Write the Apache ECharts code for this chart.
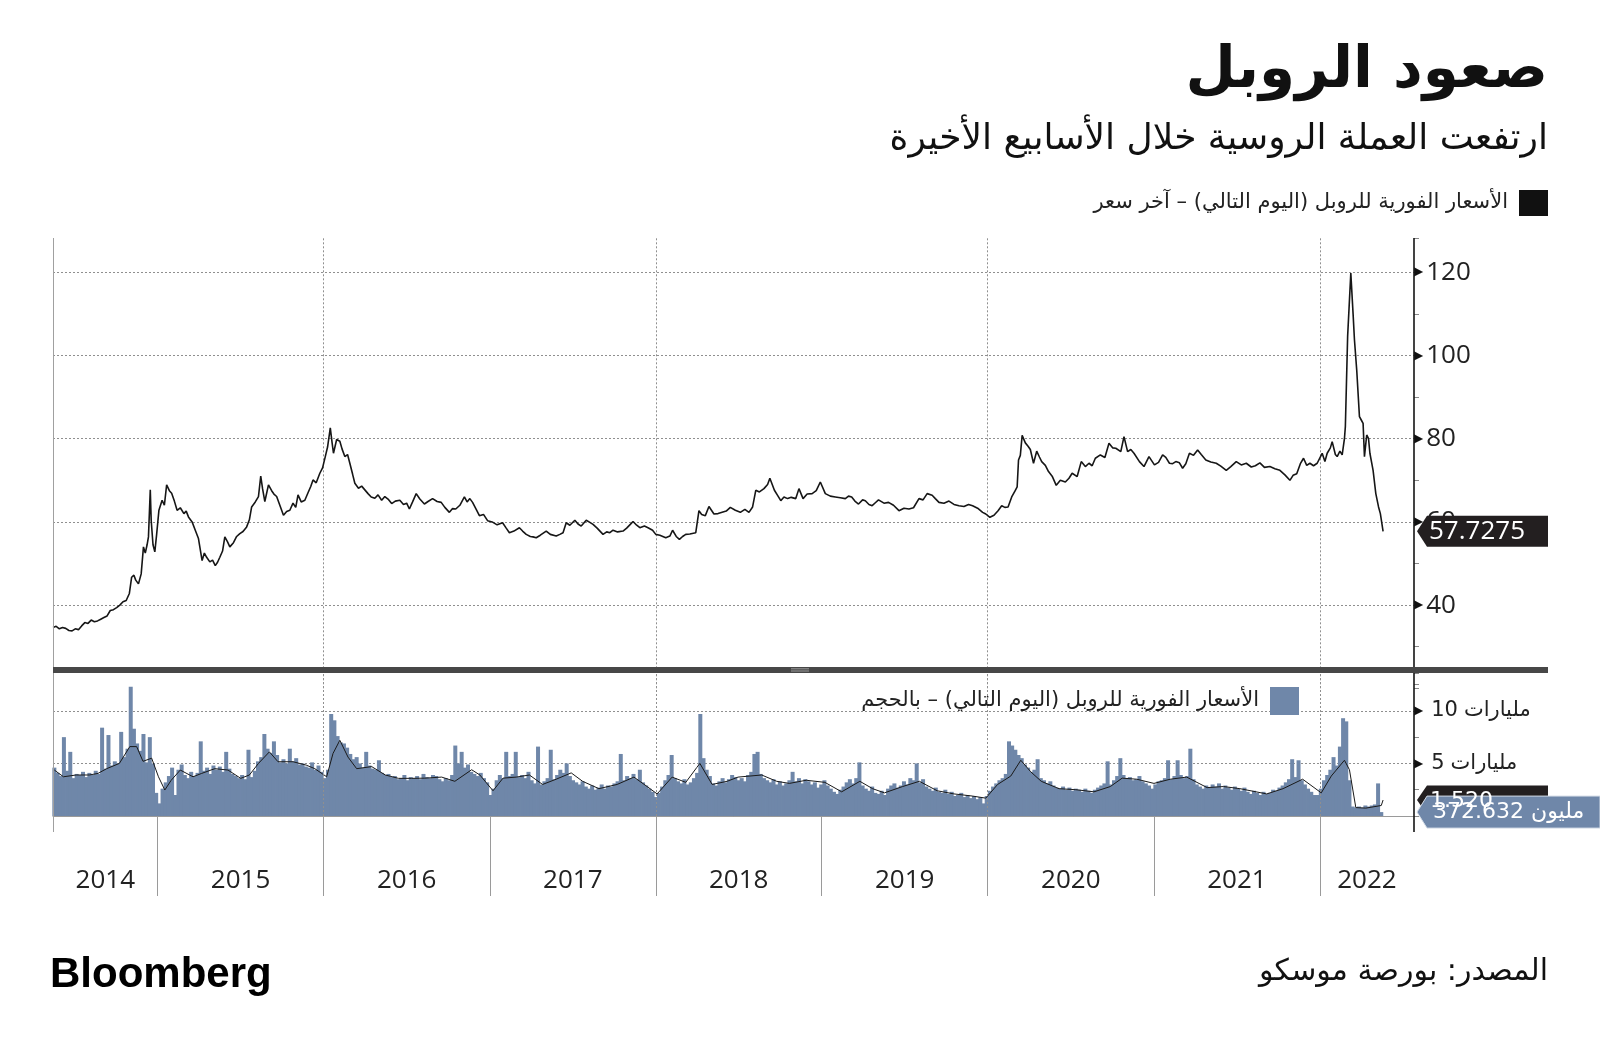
<!DOCTYPE html>
<html><head><meta charset="utf-8">
<script src="https://cdn.jsdelivr.net/npm/echarts@6/dist/echarts.min.js"></script>
<style>html,body{margin:0;padding:0;background:#fff}#c{width:1600px;height:1053px}</style>
</head><body><div id="c"></div>
<script>
// ---------- DATA ----------
const priceName = 'الأسعار الفورية للروبل (اليوم التالي) – آخر سعر';
const volName = 'الأسعار الفورية للروبل (اليوم التالي) – بالحجم';
const maName = 'المتوسط المتحرك للحجم';

const priceData = [
['2014-05-16',34.6],['2014-05-23',34.9],['2014-05-30',34.3],['2014-06-06',34.6],['2014-06-13',34.4],['2014-06-20',33.9],['2014-06-27',33.8],['2014-07-04',34.3],['2014-07-11',34.1],['2014-07-18',35.0],['2014-07-25',35.8],['2014-08-01',35.6],['2014-08-08',36.4],['2014-08-15',36.0],['2014-08-22',36.2],['2014-08-29',36.6],['2014-09-05',37.0],['2014-09-12',37.4],['2014-09-19',38.7],['2014-09-26',38.9],['2014-10-03',39.4],['2014-10-10',40.0],['2014-10-17',40.8],['2014-10-24',41.1],['2014-10-31',42.8],['2014-11-05',46.7],['2014-11-10',47.2],['2014-11-14',46.0],['2014-11-20',45.1],['2014-11-26',47.5],['2014-12-01',54.0],['2014-12-05',52.5],['2014-12-09',54.5],['2014-12-12',56.4],['2014-12-16',67.7],['2014-12-18',60.4],['2014-12-22',54.5],['2014-12-26',52.8],['2014-12-30',57.0],
['2015-01-04',62.8],['2015-01-11',65.2],['2015-01-16',64.0],['2015-01-21',68.9],['2015-01-27',67.5],['2015-02-01',66.9],['2015-02-07',65.0],['2015-02-13',62.8],['2015-02-20',63.4],['2015-02-28',62.0],['2015-03-05',62.6],['2015-03-10',61.2],['2015-03-18',60.0],['2015-03-25',58.0],['2015-04-01',56.0],['2015-04-09',50.7],['2015-04-14',52.5],['2015-04-19',51.5],['2015-04-26',50.4],['2015-05-02',50.8],['2015-05-08',49.5],['2015-05-13',50.3],['2015-05-18',51.5],['2015-05-24',53.0],['2015-05-29',56.4],['2015-06-04',55.2],['2015-06-09',54.0],['2015-06-17',55.0],['2015-06-24',56.5],['2015-07-01',57.2],['2015-07-08',57.7],['2015-07-16',58.8],['2015-07-22',60.5],['2015-07-27',63.6],['2015-08-04',64.8],['2015-08-11',66.1],['2015-08-16',71.0],['2015-08-20',68.0],['2015-08-25',64.9],['2015-09-02',68.9],['2015-09-09',67.5],['2015-09-14',66.7],['2015-09-20',66.1],['2015-09-27',64.0],['2015-10-05',61.6],['2015-10-12',62.5],['2015-10-19',62.8],['2015-10-26',64.5],['2015-11-01',63.5],['2015-11-06',66.5],['2015-11-13',64.8],['2015-11-21',65.2],['2015-11-28',67.0],['2015-12-04',68.5],['2015-12-09',70.1],['2015-12-16',69.4],['2015-12-24',71.7],['2015-12-30',73.0],
['2016-01-05',75.7],['2016-01-10',78.0],['2016-01-16',82.6],['2016-01-20',79.0],['2016-01-23',76.5],['2016-01-30',79.8],['2016-02-06',79.4],['2016-02-11',77.5],['2016-02-17',75.7],['2016-02-23',76.2],['2016-02-28',74.1],['2016-03-05',71.5],['2016-03-10',69.3],['2016-03-18',68.1],['2016-03-25',68.6],['2016-04-01',67.7],['2016-04-08',66.8],['2016-04-15',66.0],['2016-04-23',65.7],['2016-04-30',66.5],['2016-05-08',65.2],['2016-05-15',66.1],['2016-05-22',65.5],['2016-05-30',64.4],['2016-06-07',65.0],['2016-06-17',65.2],['2016-06-25',64.2],['2016-07-02',64.5],['2016-07-08',63.1],['2016-07-15',64.8],['2016-07-23',66.8],['2016-07-31',65.5],['2016-08-10',64.3],['2016-08-18',64.9],['2016-08-28',65.6],['2016-09-07',64.9],['2016-09-16',64.7],['2016-09-24',63.5],['2016-10-04',62.3],['2016-10-11',63.2],['2016-10-18',63.1],['2016-10-27',64.0],['2016-11-06',66.0],['2016-11-12',64.8],['2016-11-18',65.6],['2016-11-24',64.7],['2016-12-02',63.0],['2016-12-09',61.5],['2016-12-18',61.8],['2016-12-27',60.3],
['2017-01-06',60.0],['2017-01-17',59.3],['2017-01-29',59.8],['2017-02-06',58.5],['2017-02-13',57.4],['2017-02-23',57.8],['2017-03-07',58.6],['2017-03-14',57.8],['2017-03-22',57.0],['2017-03-31',56.5],['2017-04-06',56.4],['2017-04-13',56.2],['2017-04-22',56.8],['2017-05-05',57.8],['2017-05-14',57.0],['2017-05-27',56.6],['2017-06-04',57.0],['2017-06-11',57.4],['2017-06-18',59.8],['2017-06-26',59.2],['2017-07-07',60.4],['2017-07-14',59.5],['2017-07-21',59.0],['2017-08-01',60.4],['2017-08-09',59.9],['2017-08-16',59.4],['2017-08-25',58.5],['2017-09-07',57.0],['2017-09-15',57.6],['2017-09-22',57.4],['2017-09-29',58.0],['2017-10-09',57.6],['2017-10-21',57.8],['2017-10-29',58.5],['2017-11-06',59.4],['2017-11-12',60.1],['2017-11-20',59.2],['2017-11-27',58.6],['2017-12-07',59.0],['2017-12-15',58.6],['2017-12-25',58.0],
['2018-01-01',57.0],['2018-01-10',56.8],['2018-01-23',56.2],['2018-02-01',56.6],['2018-02-07',58.0],['2018-02-15',56.5],['2018-02-22',55.8],['2018-03-01',56.5],['2018-03-08',57.0],['2018-03-17',57.1],['2018-03-30',57.4],['2018-04-06',62.7],['2018-04-12',61.8],['2018-04-20',61.5],['2018-04-28',63.7],['2018-05-09',61.9],['2018-05-18',62.0],['2018-05-27',62.3],['2018-06-05',62.6],['2018-06-14',63.5],['2018-06-25',62.8],['2018-07-06',62.3],['2018-07-16',63.0],['2018-07-25',62.3],['2018-08-02',63.6],['2018-08-09',67.6],['2018-08-17',67.2],['2018-08-27',68.0],['2018-09-04',69.0],['2018-09-09',70.5],['2018-09-19',67.6],['2018-09-27',66.2],['2018-10-03',65.1],['2018-10-10',66.0],['2018-10-18',65.6],['2018-10-26',65.9],['2018-11-05',65.6],['2018-11-12',68.0],['2018-11-21',65.6],['2018-11-30',66.7],['2018-12-11',66.8],['2018-12-20',67.5],['2018-12-29',69.6],
['2019-01-09',66.8],['2019-01-20',66.2],['2019-01-31',66.0],['2019-02-11',65.8],['2019-02-22',65.6],['2019-03-01',66.2],['2019-03-08',66.0],['2019-03-15',65.0],['2019-03-23',64.3],['2019-04-01',65.3],['2019-04-07',65.1],['2019-04-15',64.2],['2019-04-22',63.9],['2019-04-29',64.6],['2019-05-06',65.3],['2019-05-18',64.5],['2019-05-28',64.7],['2019-06-08',64.0],['2019-06-20',62.7],['2019-07-01',63.3],['2019-07-12',63.1],['2019-07-22',63.4],['2019-08-03',65.6],['2019-08-12',65.3],['2019-08-21',66.8],['2019-09-01',66.4],['2019-09-08',65.6],['2019-09-16',64.7],['2019-09-27',64.5],['2019-10-08',65.0],['2019-10-19',64.2],['2019-10-30',63.9],['2019-11-10',63.7],['2019-11-20',64.2],['2019-11-29',63.9],['2019-12-10',63.3],['2019-12-21',62.3],['2019-12-28',61.9],
['2020-01-06',61.1],['2020-01-15',61.6],['2020-01-24',62.7],['2020-02-01',63.9],['2020-02-08',63.5],['2020-02-15',63.6],['2020-02-23',66.0],['2020-03-02',67.6],['2020-03-06',68.4],['2020-03-09',74.9],['2020-03-13',76.0],['2020-03-17',80.8],['2020-03-24',79.0],['2020-03-30',78.2],['2020-04-04',77.4],['2020-04-11',74.1],['2020-04-18',77.0],['2020-04-24',75.6],['2020-04-29',74.5],['2020-05-07',73.6],['2020-05-14',72.1],['2020-05-22',71.0],['2020-05-31',68.8],['2020-06-09',70.0],['2020-06-20',69.6],['2020-06-28',70.5],['2020-07-05',71.7],['2020-07-16',70.9],['2020-07-25',74.5],['2020-08-03',73.3],['2020-08-11',74.1],['2020-08-18',73.5],['2020-08-25',75.3],['2020-09-05',76.1],['2020-09-15',75.5],['2020-09-24',78.9],['2020-10-02',77.8],['2020-10-09',77.7],['2020-10-20',76.9],['2020-10-27',80.5],['2020-11-04',76.9],['2020-11-11',77.4],['2020-11-18',76.5],['2020-11-30',74.5],['2020-12-10',73.3],['2020-12-21',75.7],
['2021-01-02',73.7],['2021-01-11',74.3],['2021-01-20',76.1],['2021-01-27',75.5],['2021-02-04',74.1],['2021-02-11',74.0],['2021-02-18',74.5],['2021-02-26',74.2],['2021-03-05',72.9],['2021-03-12',74.0],['2021-03-20',76.5],['2021-03-29',76.0],['2021-04-07',77.3],['2021-04-15',76.2],['2021-04-25',74.9],['2021-05-06',74.4],['2021-05-18',74.1],['2021-05-28',73.4],['2021-06-09',72.4],['2021-06-19',73.3],['2021-07-01',74.5],['2021-07-12',73.7],['2021-07-23',74.1],['2021-08-03',73.2],['2021-08-12',73.5],['2021-08-22',74.2],['2021-09-01',73.1],['2021-09-13',73.3],['2021-09-24',72.8],['2021-10-05',72.4],['2021-10-16',71.3],['2021-10-27',70.0],['2021-11-03',71.2],['2021-11-11',71.6],['2021-11-19',74.0],['2021-11-26',75.3],['2021-12-03',73.6],['2021-12-10',74.1],['2021-12-18',73.5],['2021-12-26',74.1],
['2022-01-06',76.5],['2022-01-12',74.5],['2022-01-17',76.5],['2022-01-24',77.8],['2022-01-28',79.3],['2022-02-04',76.2],['2022-02-08',75.7],['2022-02-14',77.0],['2022-02-19',76.1],['2022-02-24',80.0],['2022-02-26',82.9],['2022-03-03',104.6],['2022-03-10',119.8],['2022-03-15',110.0],['2022-03-18',103.8],['2022-03-23',96.5],['2022-03-29',85.3],['2022-04-02',84.5],['2022-04-06',83.7],['2022-04-09',75.7],['2022-04-14',80.9],['2022-04-18',80.0],['2022-04-21',76.5],['2022-04-28',72.4],['2022-05-04',66.8],['2022-05-10',63.6],['2022-05-14',62.0],['2022-05-20',57.7275]
];

// weekly volume (billions), each array starts on the Monday listed in volStarts
const volStarts = ['2014-05-19','2015-01-05','2016-01-04','2017-01-02','2018-01-01','2018-12-31','2019-12-30','2020-12-28','2021-12-27'];
const vol2014 = [4.6,4.1,3.8,7.5,4.3,6.1,3.6,4.0,3.9,4.2,3.7,4.1,3.9,4.3,4.0,8.4,4.5,7.7,4.8,5.2,5.0,8.0,5.6,6.4,12.3,8.3,6.9,6.2,7.8,5.1,7.5,5.0,2.2];
const vol2015 = [1.2,2.6,3.2,3.8,4.6,2.0,4.4,4.9,3.9,3.6,4.2,3.8,4.1,7.1,4.3,4.6,4.0,4.8,4.4,4.7,4.2,6.1,4.5,4.0,3.8,3.6,3.9,3.5,6.3,3.7,4.3,5.2,5.6,7.8,6.4,6.0,7.1,5.8,5.1,5.4,5.0,6.4,5.2,5.5,4.9,5.0,4.7,4.6,5.1,4.4,4.8,4.2];
const vol2016 = [3.6,4.4,9.7,9.1,7.6,7.0,6.9,6.5,5.9,5.4,5.6,5.0,4.6,6.1,4.8,4.5,4.4,5.3,4.1,3.9,4.0,3.7,3.8,3.5,3.6,3.9,3.4,3.7,3.6,3.8,3.5,4.0,3.7,3.6,3.9,3.8,3.5,3.3,3.6,3.4,3.9,6.7,5.0,6.1,4.6,4.9,4.2,4.0,3.8,4.1,3.6,3.2];
const vol2017 = [2.0,2.6,3.4,3.9,3.6,6.1,3.8,4.0,6.1,3.7,3.9,3.6,4.2,3.4,3.1,6.6,3.0,3.3,3.6,6.3,3.5,3.9,4.4,4.1,5.0,3.8,3.4,3.2,3.0,3.3,2.8,2.6,2.9,2.5,2.7,3.0,2.6,2.9,2.8,3.1,3.3,5.9,3.4,3.8,3.6,4.0,3.5,4.4,3.2,2.9,2.6,2.3];
const vol2018 = [1.8,2.2,2.8,3.4,3.9,5.8,3.6,3.3,3.1,3.5,3.0,3.2,3.6,4.1,9.7,5.5,4.4,3.8,3.1,2.9,3.3,3.6,3.2,3.5,3.9,3.7,3.4,3.6,3.3,3.9,4.2,5.9,6.1,4.0,3.6,3.4,3.2,3.5,3.0,3.3,2.9,3.1,3.4,4.2,3.3,3.6,3.1,3.5,3.3,3.0,3.2,2.7];
const vol2019 = [3.0,3.4,2.9,2.6,2.3,2.1,2.5,2.8,3.2,3.5,3.1,3.6,5.1,2.9,2.6,2.4,2.8,2.2,2.1,2.4,2.0,2.6,2.9,3.1,2.7,2.9,3.3,3.0,3.6,3.4,5.0,3.2,3.5,2.8,2.6,2.4,2.7,2.3,2.2,2.5,2.1,2.3,1.9,2.0,2.2,1.8,2.0,1.7,1.9,1.6,1.8,1.2];
const vol2020 = [1.9,2.4,2.8,3.1,3.4,3.6,4.0,7.1,6.7,6.3,5.8,5.5,4.9,4.6,4.2,4.4,5.4,3.6,3.4,3.1,3.3,2.9,2.7,2.6,2.8,2.5,2.7,2.4,2.6,2.5,2.3,2.6,2.4,2.2,2.5,2.7,2.9,3.1,5.2,3.0,3.4,3.8,5.5,3.9,3.6,3.7,3.4,3.5,3.8,3.3,3.1,2.9];
const vol2021 = [2.6,3.0,3.3,3.4,3.6,5.3,3.5,3.8,5.3,3.9,3.6,3.8,6.4,3.5,3.0,2.8,2.6,2.9,2.7,3.0,2.8,3.1,2.6,2.9,2.7,2.5,2.8,2.6,2.4,2.7,2.3,2.1,2.4,2.2,2.0,2.3,2.1,2.2,2.5,2.4,2.7,2.9,3.2,3.5,5.4,3.7,5.3,3.4,3.0,2.6,2.3,2.0];
const vol2022 = [2.0,2.6,3.4,3.9,4.4,5.6,4.8,6.6,9.3,9.0,3.4,0.9,0.8,0.9,0.8,1.0,0.9,1.0,1.1,3.1,0.372632];
const volYears = [vol2014,vol2015,vol2016,vol2017,vol2018,vol2019,vol2020,vol2021,vol2022];

// moving average of volume (billions)
const maData = [
['2014-05-19',4.37],['2014-06-08',3.73],['2014-07-06',3.9],['2014-08-04',3.9],['2014-08-23',4.05],['2014-09-11',4.5],['2014-10-09',5.0],['2014-11-01',6.6],['2014-11-16',6.6],['2014-11-30',5.2],['2014-12-19',5.5],
['2015-01-03',3.73],['2015-01-17',2.47],['2015-01-31',3.4],['2015-02-20',4.37],['2015-03-20',3.73],['2015-04-08',4.05],['2015-05-07',4.5],['2015-06-05',4.37],['2015-07-03',3.58],['2015-07-22',3.9],['2015-08-11',5.0],['2015-09-04',6.1],['2015-09-23',5.16],['2015-10-26',5.16],['2015-11-24',4.84],['2015-12-13',4.5],
['2016-01-08',3.73],['2016-01-22',5.95],['2016-02-06',7.2],['2016-02-24',5.6],['2016-03-14',4.5],['2016-04-16',4.7],['2016-05-16',3.9],['2016-06-14',3.58],['2016-07-13',3.58],['2016-08-11',3.6],['2016-09-17',3.7],['2016-10-16',3.3],['2016-11-22',4.4],['2016-12-10',3.9],
['2017-01-08',2.4],['2017-01-30',3.6],['2017-02-28',3.7],['2017-03-29',3.9],['2017-04-27',3.0],['2017-05-27',3.5],['2017-06-29',4.1],['2017-07-24',3.3],['2017-08-29',2.6],['2017-10-08',3.0],['2017-11-14',3.7],['2017-12-13',2.8],
['2018-01-04',2.1],['2018-02-06',3.7],['2018-03-08',3.2],['2018-04-01',4.6],['2018-04-08',5.0],['2018-05-05',3.0],['2018-06-07',3.3],['2018-07-01',3.7],['2018-08-22',3.9],['2018-09-24',3.3],['2018-10-22',3.1],['2018-11-28',3.4],
['2019-01-08',3.2],['2019-02-14',2.3],['2019-03-26',3.3],['2019-04-23',2.6],['2019-05-19',2.2],['2019-06-28',2.8],['2019-08-04',3.3],['2019-09-12',2.4],['2019-10-19',2.1],['2019-11-28',1.9],['2019-12-28',1.7],
['2020-01-23',3.0],['2020-02-21',3.8],['2020-03-14',5.3],['2020-04-05',4.2],['2020-04-28',3.3],['2020-06-06',2.6],['2020-07-13',2.5],['2020-08-22',2.3],['2020-09-27',2.8],['2020-10-23',3.6],['2020-11-24',3.5],
['2021-01-01',3.1],['2021-02-06',3.5],['2021-03-14',3.7],['2021-04-28',2.7],['2021-06-03',2.8],['2021-07-09',2.6],['2021-09-06',2.1],['2021-10-12',2.6],['2021-11-24',3.5],
['2022-01-04',2.2],['2022-01-26',3.8],['2022-02-24',5.3],['2022-03-07',4.4],['2022-03-21',0.8],['2022-04-12',0.75],['2022-05-16',1.0],['2022-05-20',1.52]
];

const lastPrice = 57.7275, lastVol = 0.372632, lastMA = 1.52;
const lastPriceText = '57.7275';
const lastVolNum = '372.632', lastVolWord = 'مليون';
const lastMAText = '1.520';
const xMinDate = '2014-05-16', xMaxDate = '2022-07-27';
const yearStarts = ['2015-01-01','2016-01-01','2017-01-01','2018-01-01','2019-01-01','2020-01-01','2021-01-01','2022-01-01'];
const gridYears = ['2016-01-01','2018-01-01','2020-01-01','2022-01-01'];
const priceTicks = [40,60,80,100,120];
const volTicks = [5,10];
const volUnit = 'مليارات';

// ---------- BUILD ----------
function ts(s){const p=s.split('-').map(Number);return new Date(p[0],p[1]-1,p[2]).getTime();}
const DAY = 86400000;
const volData = [];
volYears.forEach((arr,k)=>{const t0=ts(volStarts[k]);arr.forEach((v,i)=>volData.push([t0+i*7*DAY,v]));});
const xMin = ts(xMinDate), xMax = ts(xMaxDate);
const ys = yearStarts.map(ts);
const yearMids = [(xMin+ys[0])/2];
for(let i=0;i<ys.length-1;i++) yearMids.push((ys[i]+ys[i+1])/2);
yearMids.push((ys[ys.length-1]+xMax)/2);

const GRID_L=53, GRID_R=186;
const dotted = {color:'#8f8f8f', width:1, type:[2,2]};
const vMark = {silent:true, symbol:['none','none'], label:{show:false}, lineStyle:dotted, emphasis:{disabled:true},
  data: gridYears.map(d=>({xAxis: ts(d)}))};

const chart = echarts.init(document.getElementById('c'));
const option = {
  animation:false,
  backgroundColor:'#fff',
  title:[
    {text:'صعود الروبل', right:52, top:43, padding:0, textStyle:{fontSize:58, fontWeight:'bold', fontFamily:'DejaVu Sans', color:'#111'}},
    {text:'ارتفعت العملة الروسية خلال الأسابيع الأخيرة', right:52, top:122, padding:0, textStyle:{fontSize:36, fontWeight:'normal', fontFamily:'DejaVu Sans', color:'#111'}},
    {text:'المصدر: بورصة موسكو', right:52, top:957, padding:0, textStyle:{fontSize:30, fontWeight:'normal', fontFamily:'DejaVu Sans', color:'#111'}},
    {text:'Bloomberg', left:50, top:954, padding:0, textStyle:{fontSize:42, fontWeight:'bold', fontFamily:'Liberation Sans', color:'#000'}}
  ],
  legend:[
    {data:[{name:priceName, icon:'rect'}], right:52, top:190, padding:0, align:'right', itemWidth:29, itemHeight:26, selectedMode:false,
     textStyle:{fontSize:21, color:'#222', fontFamily:'DejaVu Sans', padding:[0,6,0,0]}},
    {data:[{name:volName, icon:'rect'}], right:301, top:687, padding:0, align:'right', itemWidth:29, itemHeight:28, selectedMode:false,
     textStyle:{fontSize:21, color:'#222', fontFamily:'DejaVu Sans', padding:[0,6,0,0]}}
  ],
  grid:[
    {left:GRID_L, right:GRID_R, top:238, height:450.3},
    {left:GRID_L, right:GRID_R, top:673, height:143}
  ],
  xAxis:[
    {type:'value', gridIndex:0, min:xMin, max:xMax, show:false, splitLine:{show:false}},
    {type:'value', gridIndex:1, min:xMin, max:xMax, offset:16,
     axisLine:{show:true, lineStyle:{color:'#9a9a9a', width:1}},
     axisTick:{show:true, customValues:ys, length:80, lineStyle:{color:'#9a9a9a', width:1}},
     axisLabel:{show:true, customValues:yearMids, margin:36, fontSize:26, color:'#222', fontFamily:'Open Sans',
       formatter:v=>String(new Date(v).getFullYear())},
     splitLine:{show:false}}
  ],
  yAxis:[
    {type:'value', gridIndex:0, position:'right', min:20, max:128.25, interval:20,
     axisLine:{show:false}, axisTick:{show:false},
     splitLine:{show:true, showMinLine:false, showMaxLine:false, lineStyle:dotted},
     axisLabel:{margin:0, showMaxLabel:false, formatter:v=>priceTicks.indexOf(v)>=0?('{t|▶}{v|'+v+'}'):'',
       rich:{t:{fontSize:12, color:'#111', fontFamily:'DejaVu Sans'}, v:{fontSize:26, color:'#222', fontFamily:'Open Sans', padding:[0,0,0,3]}}}},
    {type:'value', gridIndex:0, position:'right', min:20, max:128.25, interval:10,
     axisLine:{show:false}, axisTick:{show:true, length:5, lineStyle:{color:'#888'}}, axisLabel:{show:false}, splitLine:{show:false}},
    {type:'value', gridIndex:1, position:'right', min:0, max:13.6, interval:5,
     axisLine:{show:false}, axisTick:{show:false},
     splitLine:{show:true, showMinLine:true, showMaxLine:false, lineStyle:dotted},
     axisLabel:{margin:0, showMaxLabel:false, formatter:v=>volTicks.indexOf(v)>=0?('{t|▶}{n|'+v+'}{u|'+volUnit+'}'):'',
       rich:{t:{fontSize:12, color:'#111', fontFamily:'DejaVu Sans'},
             n:{fontSize:21, color:'#222', fontFamily:'DejaVu Sans', padding:[0,6,0,8]},
             u:{fontSize:21, color:'#222', fontFamily:'DejaVu Sans'}}}},
    {type:'value', gridIndex:1, position:'right', min:0, max:13.6, interval:2.5,
     axisLine:{show:false}, axisTick:{show:true, length:5, lineStyle:{color:'#888'}}, axisLabel:{show:false}, splitLine:{show:false}}
  ],
  series:[
    {name:priceName, type:'line', xAxisIndex:0, yAxisIndex:0, data:priceData.map(d=>[ts(d[0]),d[1]]),
     showSymbol:false, color:'#111', lineStyle:{color:'#161616', width:1.6}, z:5, markLine:vMark},
    {name:volName, type:'bar', xAxisIndex:1, yAxisIndex:2, data:volData, barWidth:4,
     color:'#6f87a9', itemStyle:{color:'#6f87a9'}, markLine:vMark, z:2},
    {name:maName, type:'line', xAxisIndex:1, yAxisIndex:2, data:maData.map(d=>[ts(d[0]),d[1]]),
     showSymbol:false, color:'#111', lineStyle:{color:'#1a1a1a', width:1}, z:4}
  ]
};
chart.setOption(option);

// value tags on the right axis, positioned through the library's scales
const xr = chart.convertToPixel({xAxisIndex:0}, xMax);
const yTop = chart.convertToPixel({yAxisIndex:0}, 128.25);
const yBot = chart.convertToPixel({yAxisIndex:2}, 0) + 16;
const yP = chart.convertToPixel({yAxisIndex:0}, lastPrice);
const yV = chart.convertToPixel({yAxisIndex:2}, lastVol);
const yM = chart.convertToPixel({yAxisIndex:2}, lastMA);
function tag(y, h, right, fill, stroke){
  return {type:'polygon', shape:{points:[[xr+3,y],[xr+13,y-h/2],[right,y-h/2],[right,y+h/2],[xr+13,y+h/2]]},
    style:{fill:fill, stroke:stroke||null, lineWidth:stroke?1:0}, z:50};
}
const tagRich = {n:{fontSize:22, fill:'#fff', fontFamily:'DejaVu Sans', padding:[0,7,0,0]}, u:{fontSize:22, fill:'#fff', fontFamily:'DejaVu Sans'}};
chart.setOption({graphic:[
  {type:'line', shape:{x1:GRID_L+0.5,y1:yTop,x2:GRID_L+0.5,y2:yBot}, style:{stroke:'#a0a0a0', lineWidth:1}, z:40},
  {type:'line', shape:{x1:xr,y1:yTop,x2:xr,y2:yBot}, style:{stroke:'#151515', lineWidth:1.6}, z:40},
  {type:'rect', shape:{x:GRID_L, y:667, width:1548-GRID_L, height:6}, style:{fill:'#474747'}, z:45},
  {type:'line', shape:{x1:791,y1:668.8,x2:809,y2:668.8}, style:{stroke:'#9b9b9b', lineWidth:1}, z:46},
  {type:'line', shape:{x1:791,y1:671,x2:809,y2:671}, style:{stroke:'#9b9b9b', lineWidth:1}, z:46},
  tag(yP, 31, 1548, '#231f20'),
  {type:'text', x:xr+15, y:yP, style:{text:lastPriceText, fill:'#fff', fontSize:26, fontFamily:'Open Sans', verticalAlign:'middle'}, z:51},
  tag(yM, 29, 1548, '#231f20'),
  {type:'text', x:xr+16, y:yM+1, style:{text:lastMAText, fill:'#fff', fontSize:22, fontFamily:'DejaVu Sans', verticalAlign:'middle'}, z:51},
  tag(yV, 32, 1600, '#6f87a9', '#d3dbe6'),
  {type:'text', x:xr+19, y:yV, style:{text:'{n|'+lastVolNum+'}{u|'+lastVolWord+'}', rich:tagRich, verticalAlign:'middle'}, z:53}
]});
</script></body></html>
